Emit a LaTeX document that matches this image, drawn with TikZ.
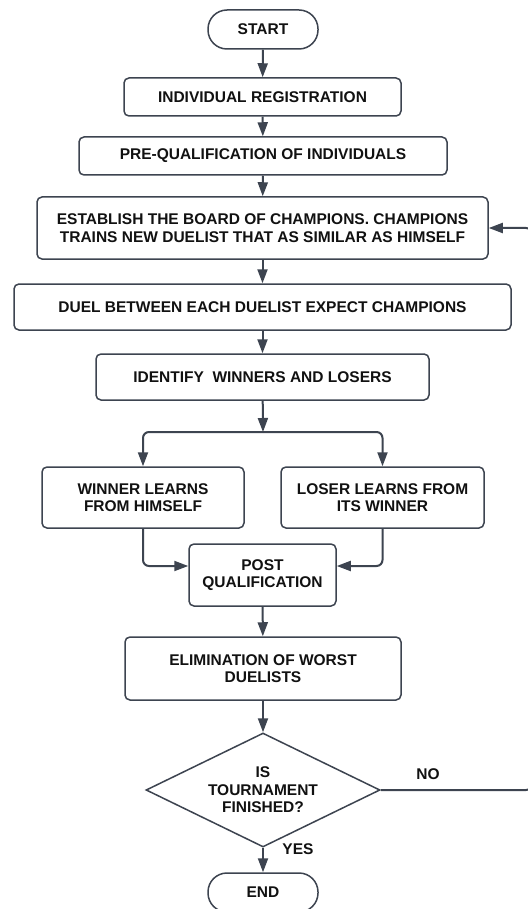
\documentclass[tikz,border=0pt]{standalone}
\usepackage{fontspec}
\setmainfont{Liberation Sans}
\usetikzlibrary{arrows.meta,shapes.geometric,calc}
\definecolor{ln}{HTML}{3D4450}
\definecolor{tx}{HTML}{111111}
\begin{document}
\begin{tikzpicture}[x=1pt,y=-1pt,
  base/.style={draw=ln,line width=1.5pt,fill=white,text=tx,font=\fontsize{15.5}{17.5}\selectfont\bfseries,align=center,inner sep=0pt},
  procbox/.style={base,rectangle,rounded corners=5pt},
  term/.style={base,rectangle,rounded corners=19pt,minimum width=110pt,minimum height=39pt},
  decis/.style={base,diamond,minimum width=234pt,minimum height=114pt,aspect=2.05},
  arr/.style={draw=ln,line width=2pt,-{Triangle[length=14pt,width=10pt]}},
  lbl/.style={text=tx,font=\fontsize{15.5}{17}\selectfont\bfseries,inner sep=0pt}
]
\useasboundingbox (0,0) rectangle (527,909);
\fill[white] (0,0) rectangle (527,909);

\node[term] (start) at (263,29.5) {START};
\node[procbox,minimum width=277pt,minimum height=38pt] (reg) at (262.5,97) {INDIVIDUAL REGISTRATION};
\node[procbox,minimum width=368pt,minimum height=38pt] (preq) at (263,156) {PRE-QUALIFICATION OF INDIVIDUALS};
\node[procbox,minimum width=451pt,minimum height=62pt] (est) at (262.5,228) {ESTABLISH THE BOARD OF CHAMPIONS. CHAMPIONS\\TRAINS NEW DUELIST THAT AS SIMILAR AS HIMSELF};
\node[procbox,minimum width=497pt,minimum height=46pt] (duel) at (262.5,307) {DUEL BETWEEN EACH DUELIST EXPECT CHAMPIONS};
\node[procbox,minimum width=333pt,minimum height=46pt] (ident) at (262.5,377) {IDENTIFY\ \ WINNERS AND LOSERS};
\node[procbox,minimum width=202pt,minimum height=61pt] (winner) at (143,497.5) {WINNER LEARNS\\FROM HIMSELF};
\node[procbox,minimum width=203pt,minimum height=61pt] (loser) at (382.5,497.5) {LOSER LEARNS FROM\\ITS WINNER};
\node[procbox,minimum width=147pt,minimum height=62pt] (post) at (262.5,575) {POST\\QUALIFICATION};
\node[procbox,minimum width=276pt,minimum height=63pt] (elim) at (263,668.5) {ELIMINATION OF WORST\\DUELISTS};
\node[decis] (dec) at (263,790) {IS\\TOURNAMENT\\FINISHED?};
\node[term] (end) at (263,892.5) {END};

\coordinate (br) at (263,432);
\coordinate (loopc) at (532,790);

\draw[arr] (start) -- (reg);
\draw[arr] (reg) -- (preq);
\draw[arr] (preq) -- (est);
\draw[arr] (est) -- (duel);
\draw[arr] (duel) -- (ident);
\draw[arr] (ident) -- (br);
\draw[arr,rounded corners=6pt] (br) -| (winner.north);
\draw[arr,rounded corners=6pt] (br) -| (loser.north);
\draw[arr,rounded corners=6pt] (winner.south) |- ([yshift=9pt]post.west);
\draw[arr,rounded corners=6pt] (loser.south) |- ([yshift=9pt]post.east);
\draw[arr] (post) -- (elim);
\draw[arr] (elim) -- (dec);
\draw[arr] (dec) -- (end);
\draw[arr,rounded corners=6pt] (dec.east) -- (loopc) |- (est.east);

\node[lbl] (no) at (428,774) {NO};
\node[lbl] (yes) at (298,849) {YES};
\end{tikzpicture}
\end{document}
